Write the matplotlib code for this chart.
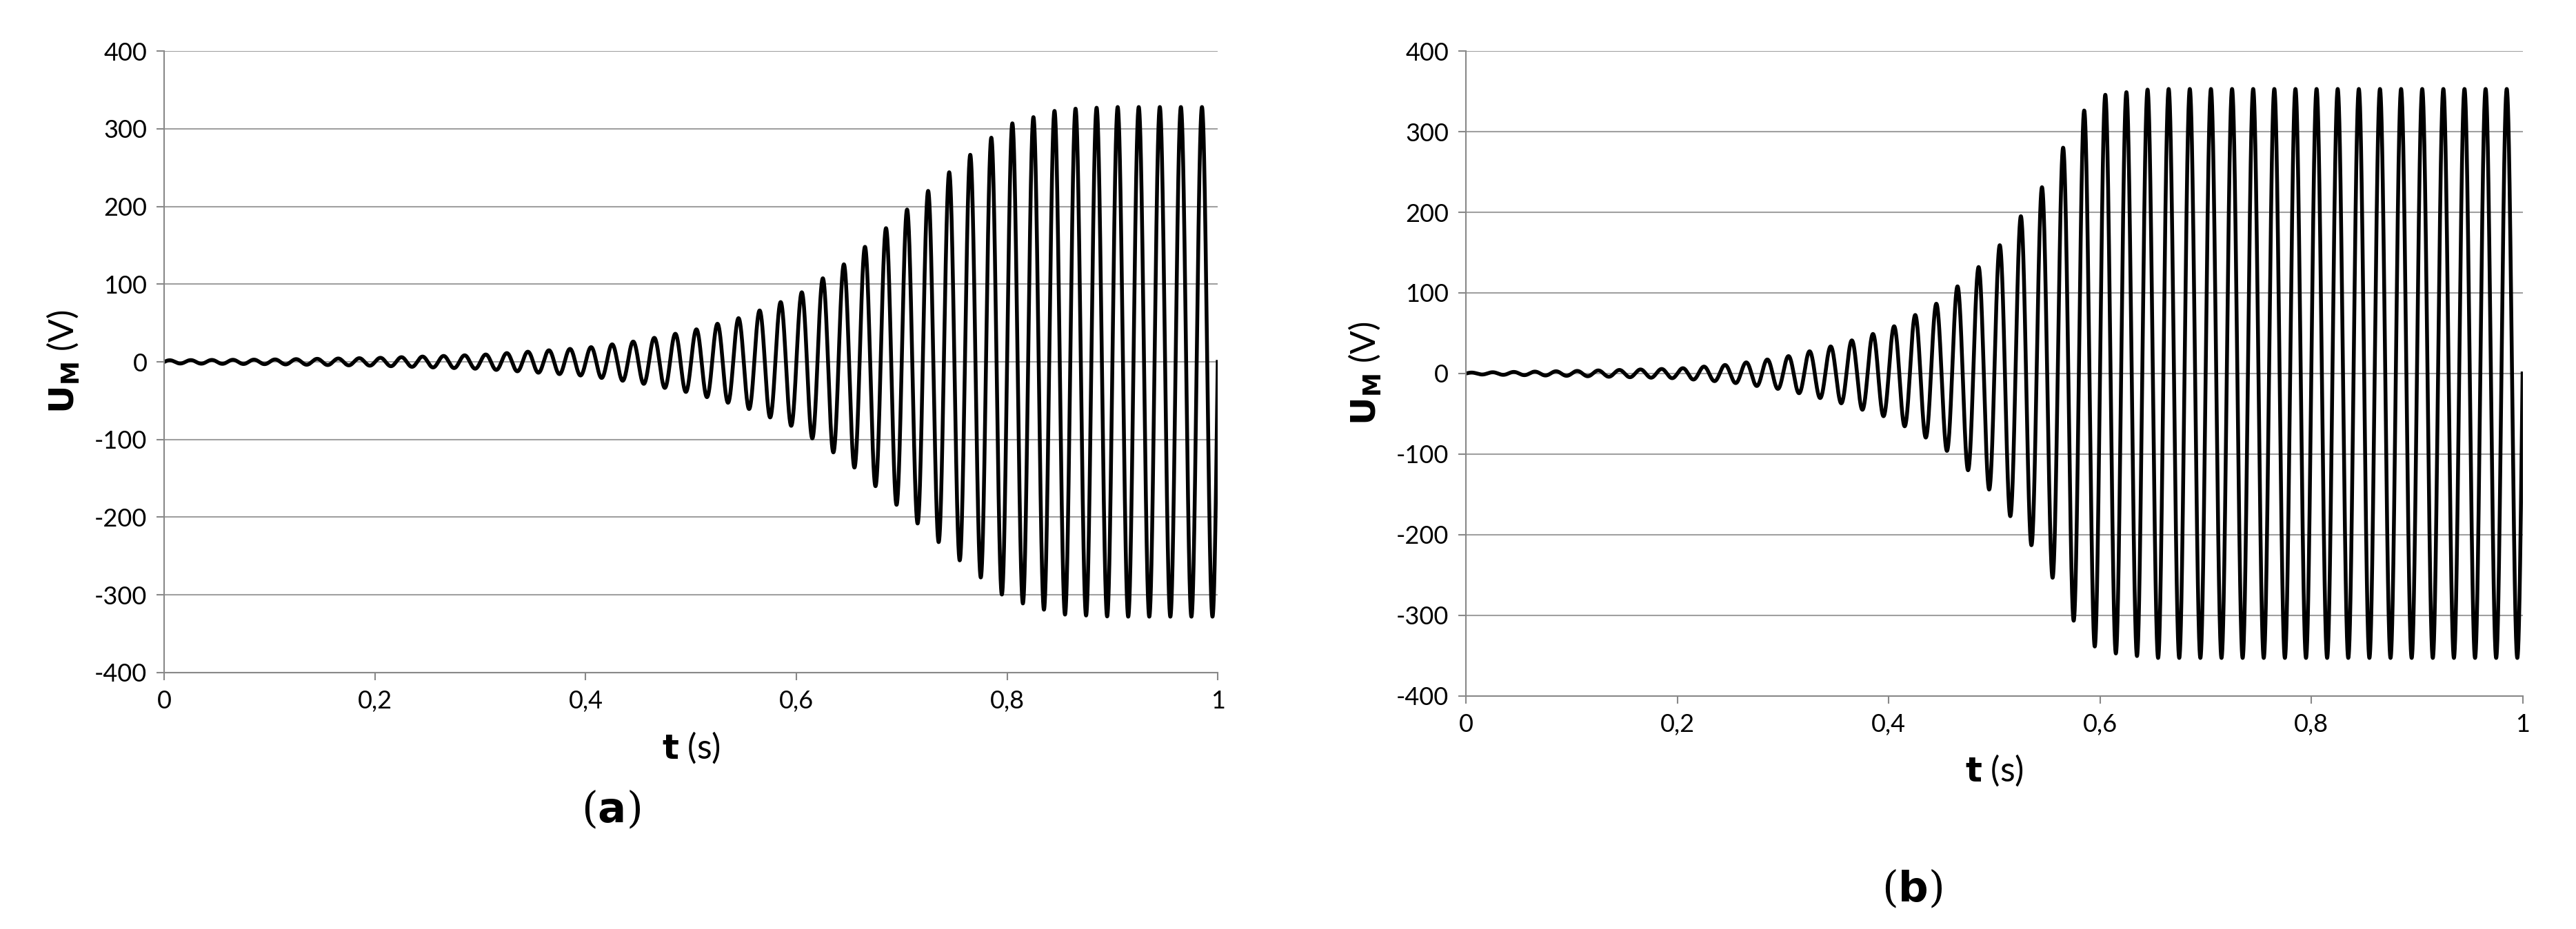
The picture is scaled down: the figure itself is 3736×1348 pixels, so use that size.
import numpy as np
import matplotlib
matplotlib.use("Agg")
import matplotlib.pyplot as plt
from matplotlib.ticker import FuncFormatter

plt.rcParams['font.family'] = ['Lato', 'DejaVu Sans']
plt.rcParams['axes.unicode_minus'] = False

# envelope (time s, amplitude V)
env_a_t = [0, 0.1, 0.2, 0.3, 0.4, 0.45, 0.5, 0.55, 0.6, 0.65, 0.7, 0.75, 0.8, 0.85, 0.9, 1.0]
env_a_v = [2, 3, 5, 9, 18, 27, 40, 58, 85, 130, 190, 250, 305, 325, 328, 328]
env_b_t = [0, 0.1, 0.2, 0.25, 0.3, 0.35, 0.4, 0.45, 0.5, 0.55, 0.58, 0.6, 0.65, 1.0]
env_b_v = [1, 3, 6, 11, 20, 35, 55, 90, 150, 240, 320, 345, 353, 353]
freq_hz = 50
yticks = [-400, -300, -200, -100, 0, 100, 200, 300, 400]
xticks = [0, 0.2, 0.4, 0.6, 0.8, 1.0]

fig = plt.figure(figsize=(37.37, 13.48), dpi=100)
axes_pos = [[0.0638, 0.276, 0.4088, 0.669], [0.569, 0.251, 0.410, 0.694]]
panels = [(env_a_t, env_a_v, 'a', 0.237, 0.105), (env_b_t, env_b_v, 'b', 0.742, 0.02)]
t = np.linspace(0, 1, 40000)
fmt = FuncFormatter(lambda v, p: ('%g' % v).replace('.', ','))
yfmt = FuncFormatter(lambda v, p: '%d' % v)
for pos, (et, ev, lab, lx, ly) in zip(axes_pos, panels):
    ax = fig.add_axes(pos)
    env = np.interp(t, et, ev)
    ax.plot(t, env * np.sin(2 * np.pi * freq_hz * t), color='black', lw=4)
    ax.set_xlim(0, 1)
    ax.set_ylim(-400, 400)
    ax.set_yticks(yticks)
    ax.set_xticks(xticks)
    ax.xaxis.set_major_formatter(fmt)
    ax.yaxis.set_major_formatter(yfmt)
    ax.grid(axis='y', color='#a0a0a0', lw=1.5)
    ax.set_axisbelow(True)
    for s in ['top', 'right']:
        ax.spines[s].set_visible(False)
    for s in ['left', 'bottom']:
        ax.spines[s].set_color('#888888')
        ax.spines[s].set_linewidth(1.5)
    ax.tick_params(labelsize=26, colors='#888888', labelcolor='black', length=8, width=1.5, pad=10)
    ax.set_xlabel(r'$\mathbf{t}$ (s)', fontsize=36, labelpad=18)
    ax.set_ylabel(r'$\mathbf{U_M}$ (V)', fontsize=36, labelpad=14)
    fig.text(lx, ly, r'($\mathbf{%s}$)' % lab, fontsize=44, family=['DejaVu Serif'], ha='center', va='bottom')

fig.savefig('out.png', dpi=100)
